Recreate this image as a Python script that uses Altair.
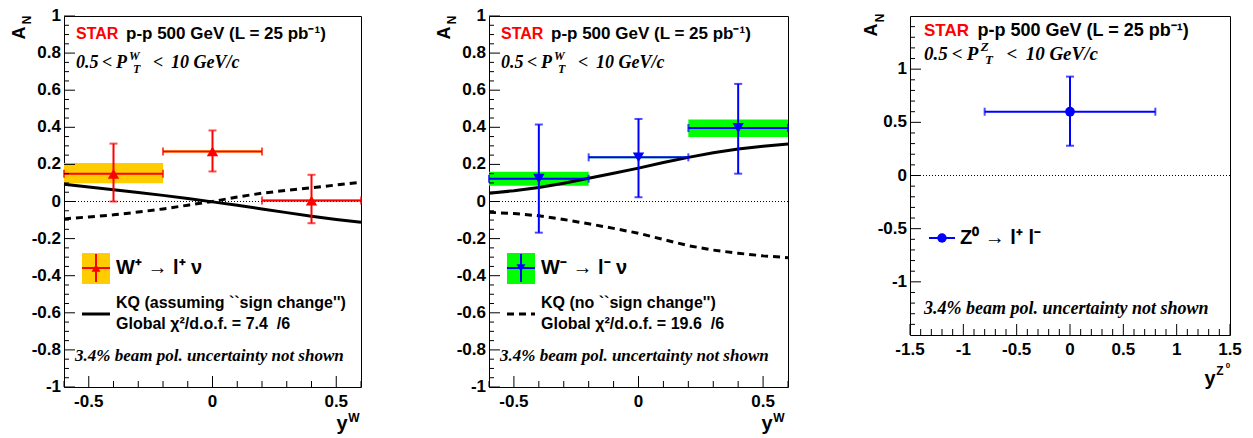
import altair as alt
import pandas as pd

SANS = "Liberation Sans"
SERIF = "Liberation Serif"
RED = "#ff0000"
BLUE = "#0000ff"
GOLD = "#ffcc00"
GREEN = "#00ff00"

# ---- W+ -> l+ nu : three rapidity bins
wp_center = [-0.4, 0.0, 0.4]
wp_lo = [-0.6, -0.2, 0.2]
wp_hi = [-0.2, 0.2, 0.6]
wp_an = [0.149, 0.270, 0.005]
wp_stat_lo = [0.000, 0.162, -0.117]
wp_stat_hi = [0.312, 0.383, 0.144]
wp_sys_lo = [0.099, 0.264, -0.002]
wp_sys_hi = [0.207, 0.276, 0.012]

# ---- W- -> l- nu
wm_center = [-0.4, 0.0, 0.4]
wm_lo = [-0.6, -0.2, 0.2]
wm_hi = [-0.2, 0.2, 0.6]
wm_an = [0.123, 0.238, 0.396]
wm_stat_lo = [-0.168, 0.023, 0.150]
wm_stat_hi = [0.415, 0.445, 0.634]
wm_sys_lo = [0.085, 0.233, 0.348]
wm_sys_hi = [0.160, 0.243, 0.442]

# ---- Z0 -> l+ l-
z_center = [0.0]
z_lo = [-0.8]
z_hi = [0.8]
z_an = [0.60]
z_stat_lo = [0.28]
z_stat_hi = [0.93]

# ---- KQ predictions vs W rapidity
kq_y = [-0.6, -0.5, -0.4, -0.3, -0.2, -0.1, 0.0, 0.1, 0.2, 0.3, 0.4, 0.5, 0.6]
kq_wp_sign = [0.093, 0.078, 0.063, 0.048, 0.033, 0.016, -0.002, -0.020, -0.040, -0.060, -0.080, -0.097, -0.112]
kq_wp_nosign = [-0.094, -0.083, -0.072, -0.057, -0.040, -0.020, 0.000, 0.024, 0.045, 0.060, 0.074, 0.089, 0.103]
kq_wm_sign = [0.045, 0.058, 0.075, 0.098, 0.125, 0.152, 0.180, 0.210, 0.238, 0.263, 0.283, 0.298, 0.310]
kq_wm_nosign = [-0.058, -0.065, -0.077, -0.097, -0.120, -0.145, -0.171, -0.205, -0.238, -0.262, -0.279, -0.293, -0.303]

# ---- axis ticks and their labels
w_x_major = [-0.5, 0.0, 0.5]
w_x_labels = ["-0.5", "0", "0.5"]
w_x_minor = [-0.6, -0.4, -0.3, -0.2, -0.1, 0.1, 0.2, 0.3, 0.4, 0.6]
w_y_major = [-1.0, -0.8, -0.6, -0.4, -0.2, 0.0, 0.2, 0.4, 0.6, 0.8, 1.0]
w_y_labels = ["-1", "-0.8", "-0.6", "-0.4", "-0.2", "0", "0.2", "0.4", "0.6", "0.8", "1"]
w_y_minor = [round(-1.0 + 0.05 * i, 2) for i in range(41) if i % 4]
z_x_major = [-1.5, -1.0, -0.5, 0.0, 0.5, 1.0, 1.5]
z_x_labels = ["-1.5", "-1", "-0.5", "0", "0.5", "1", "1.5"]
z_y_major = [-1.0, -0.5, 0.0, 0.5, 1.0]
z_y_labels = ["-1", "-0.5", "0", "0.5", "1"]
z_minor = [round(-1.5 + 0.1 * i, 1) for i in range(31) if i % 5]

MAJOR, MINOR = 11, 6
LABEL = dict(font=SANS, fontWeight="bold", fontSize=17, color="black")


def axes(xs, ys, w, h, x_major, x_labels, x_minor, y_major, y_labels, y_minor):
    """ROOT-style frame decorations: inward ticks and bold tick labels."""
    (x0, x1), (y0, y1) = xs.domain, ys.domain
    ux, uy = (x1 - x0) / w, (y1 - y0) / h      # data units per pixel
    layers = []
    for vals, size in ((x_major, MAJOR), (x_minor, MINOR)):
        df = pd.DataFrame({"tx": vals, "a": [y0] * len(vals), "b": [y0 + size * uy] * len(vals)})
        layers.append(alt.Chart(df).mark_rule(color="black", strokeWidth=1).encode(
            x=alt.X("tx:Q", scale=xs, axis=None), y=alt.Y("a:Q", scale=ys, axis=None), y2="b"))
    for vals, size in ((y_major, MAJOR), (y_minor, MINOR - 1)):
        df = pd.DataFrame({"ty": vals, "a": [x0] * len(vals), "b": [x0 + size * ux] * len(vals)})
        layers.append(alt.Chart(df).mark_rule(color="black", strokeWidth=1).encode(
            y=alt.Y("ty:Q", scale=ys, axis=None), x=alt.X("a:Q", scale=xs, axis=None), x2="b"))
    layers.append(alt.Chart(pd.DataFrame({"lx": x_major, "t": x_labels})).mark_text(
        align="center", baseline="middle", **LABEL).encode(
        x=alt.X("lx:Q", scale=xs, axis=None), y=alt.value(h + 15), text="t:N"))
    layers.append(alt.Chart(pd.DataFrame({"ly": y_major, "t": y_labels})).mark_text(
        align="right", baseline="middle", **LABEL).encode(
        y=alt.Y("ly:Q", scale=ys, axis=None), x=alt.value(-3), text="t:N"))
    return layers


def text(s, x, y, size, color="black", font=SANS, style="normal", weight="bold", angle=0, align="left"):
    return alt.Chart(pd.DataFrame({"t": [s]})).mark_text(
        align=align, baseline="middle", font=font, fontSize=size, fontStyle=style,
        fontWeight=weight, color=color, angle=angle,
    ).encode(x=alt.value(x), y=alt.value(y), text="t:N")


def points(df, xs, ys, color, shape, size, sys_color=None):
    X = lambda f: alt.X(f"{f}:Q", scale=xs, axis=None)
    Y = lambda f: alt.Y(f"{f}:Q", scale=ys, axis=None)
    base = alt.Chart(df)
    bands = []
    if sys_color:
        bands.append(base.mark_rect(color=sys_color).encode(x=X("lo"), x2="hi", y=Y("sys_lo"), y2="sys_hi"))
    cap = dict(color=color, size=8, thickness=2)
    return bands, [
        base.mark_rule(color=color, strokeWidth=2).encode(x=X("lo"), x2="hi", y=Y("an")),
        base.mark_rule(color=color, strokeWidth=2).encode(x=X("c"), y=Y("stat_lo"), y2="stat_hi"),
        base.mark_tick(orient="vertical", **cap).encode(x=X("lo"), y=Y("an")),
        base.mark_tick(orient="vertical", **cap).encode(x=X("hi"), y=Y("an")),
        base.mark_tick(orient="horizontal", **cap).encode(x=X("c"), y=Y("stat_lo")),
        base.mark_tick(orient="horizontal", **cap).encode(x=X("c"), y=Y("stat_hi")),
        base.mark_point(shape=shape, filled=True, size=size, color=color, opacity=1).encode(x=X("c"), y=Y("an")),
    ]


def curves(xs, ys, sign, nosign):
    df = pd.DataFrame({"y": kq_y, "sign": sign, "nosign": nosign})
    base = alt.Chart(df)
    return [
        base.mark_line(color="black", strokeWidth=3).encode(
            x=alt.X("y:Q", scale=xs, axis=None), y=alt.Y("sign:Q", scale=ys, axis=None)),
        base.mark_line(color="black", strokeWidth=3, strokeDash=[7, 5]).encode(
            x=alt.X("y:Q", scale=xs, axis=None), y=alt.Y("nosign:Q", scale=ys, axis=None)),
    ]


def zero_line(ys):
    return alt.Chart(pd.DataFrame({"z": [0.0]})).mark_rule(
        color="black", strokeWidth=1, strokeDash=[1, 2]).encode(y=alt.Y("z:Q", scale=ys, axis=None))


def header(x0, y1, y2, k, boson):
    """STAR label and the P_T range line; k scales sizes and offsets."""
    s = lambda v: x0 + v * k
    big = round(18 * k)
    small = round(12 * k)
    return [
        text("STAR", x0, y1, round(16 * k), color=RED),
        text("p-p 500 GeV (L = 25 pb\u207b\u00b9)", s(50), y1, round(17 * k)),
        text("0.5", x0, y2, big, font=SERIF, style="italic"),
        text("<", s(26), y2, big, font=SERIF, style="italic"),
        text("P", s(40), y2, big, font=SERIF, style="italic"),
        text(boson, s(53), y2 - 7 * k, small, font=SERIF, style="italic"),
        text("T", s(57), y2 + 6 * k, small, font=SERIF, style="italic"),
        text("<", s(77), y2, big, font=SERIF, style="italic"),
        text("10 GeV/c", s(95), y2, big, font=SERIF, style="italic"),
    ]


def y_title(ax, ay, nx, ny):
    return [
        text("A", ax, ay, 18, angle=270, align="center"),
        text("N", nx, ny, 12, angle=270, align="center"),
    ]


def one(**enc):
    return alt.Chart(pd.DataFrame({"a": [0]})).encode(**enc)


def w_panel(width, center, lo, hi, an, slo, shi, sylo, syhi, color, sys_color, shape,
            legend_text, curve_label, chi2, solid_legend, sign, nosign):
    xs = alt.Scale(domain=[-0.6, 0.6], nice=False, zero=False)
    ys = alt.Scale(domain=[-1.0, 1.0], nice=False, zero=False)
    df = pd.DataFrame({"c": center, "lo": lo, "hi": hi, "an": an, "stat_lo": slo,
                       "stat_hi": shi, "sys_lo": sylo, "sys_hi": syhi})
    bands, bars = points(df, xs, ys, color, shape, 130, sys_color)
    h = 371
    legend = [
        one(x=alt.value(18), x2=alt.value(46), y=alt.value(237), y2=alt.value(268)).mark_rect(color=sys_color),
        one(x=alt.value(18), x2=alt.value(46), y=alt.value(252)).mark_rule(color=color, strokeWidth=2),
        one(x=alt.value(32), y=alt.value(238), y2=alt.value(266)).mark_rule(color=color, strokeWidth=2),
        one(x=alt.value(32), y=alt.value(252)).mark_point(shape=shape, filled=True, size=80, color=color,
                                                          opacity=1),
        one(x=alt.value(18), x2=alt.value(46), y=alt.value(298)).mark_rule(
            color="black", strokeWidth=3, strokeDash=[1, 0] if solid_legend else [7, 5]),
        text(legend_text, 52, 252, 20),
        text(curve_label, 52, 287, 16),
        text(chi2, 52, 308, 16),
        text("3.4% beam pol. uncertainty not shown", 11, 340, 17, font=SERIF, style="italic"),
    ]
    titles = y_title(-44, 17, -37, 4) + [
        text("y", 278, h + 37, 20, align="center"),
        text("W", 290, h + 31, 12, align="center"),
    ]
    layers = (bands + [zero_line(ys)] + curves(xs, ys, sign, nosign) + bars
              + header(12, 18, 47, 1.0, "W") + legend + titles
              + axes(xs, ys, width, h, w_x_major, w_x_labels, w_x_minor, w_y_major, w_y_labels, w_y_minor))
    return alt.layer(*layers).properties(width=width, height=h)


p1 = w_panel(297, wp_center, wp_lo, wp_hi, wp_an, wp_stat_lo, wp_stat_hi, wp_sys_lo, wp_sys_hi,
             RED, GOLD, "triangle-up", "W\u207a \u2192 l\u207a \u03bd",
             "KQ (assuming ``sign change'')", "Global \u03c7\u00b2/d.o.f. = 7.4\u00a0\u00a0/6", True,
             kq_wp_sign, kq_wp_nosign)
p2 = w_panel(299, wm_center, wm_lo, wm_hi, wm_an, wm_stat_lo, wm_stat_hi, wm_sys_lo, wm_sys_hi,
             BLUE, GREEN, "triangle-down", "W\u207b \u2192 l\u207b \u03bd",
             "KQ (no ``sign change'')", "Global \u03c7\u00b2/d.o.f. = 19.6\u00a0\u00a0/6", False,
             kq_wm_sign, kq_wm_nosign)

# ---- Z panel
zx = alt.Scale(domain=[-1.5, 1.5], nice=False, zero=False)
zy = alt.Scale(domain=[-1.5, 1.5], nice=False, zero=False)
zdf = pd.DataFrame({"c": z_center, "lo": z_lo, "hi": z_hi, "an": z_an,
                    "stat_lo": z_stat_lo, "stat_hi": z_stat_hi})
_, zbars = points(zdf, zx, zy, BLUE, "circle", 95)
zw, zh = 320, 319
z_legend = [
    one(x=alt.value(19), x2=alt.value(45), y=alt.value(222)).mark_rule(color=BLUE, strokeWidth=2),
    one(x=alt.value(32), y=alt.value(222)).mark_point(shape="circle", filled=True, size=90, color=BLUE,
                                                      opacity=1),
    text("Z\u2070 \u2192 l\u207a l\u207b", 50, 222, 20),
    text("3.4% beam pol. uncertainty not shown", 14, 293, 18, font=SERIF, style="italic"),
]
z_titles = y_title(-38, 14, -30, 2) + [
    text("y", 300, zh + 44, 20, align="center"),
    text("Z", 310, zh + 36, 12, align="center"),
    text("0", 318, zh + 31, 8, align="center"),
]
p3 = alt.layer(*([zero_line(zy)] + zbars + header(14, 15, 38, 1.07, "Z") + z_legend + z_titles
                 + axes(zx, zy, zw, zh, z_x_major, z_x_labels, z_minor, z_y_major, z_y_labels, z_minor))
               ).properties(width=zw, height=zh)

chart = alt.hconcat(alt.hconcat(p1, p2, spacing=67), p3, spacing=67).configure_view(
    stroke="black", strokeWidth=1).properties(
    padding={"left": 10, "top": 6, "right": 5, "bottom": 5}, background="white")

chart.save("out.html", embed_options={"renderer": "svg", "actions": False})
